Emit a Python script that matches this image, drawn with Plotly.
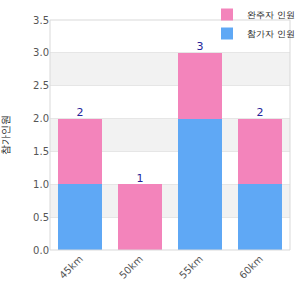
import plotly.graph_objects as go

categories = ["45km", "50km", "55km", "60km"]
series_blue = [1, 0, 2, 1]
series_pink = [1, 1, 1, 1]
totals = [b + p for b, p in zip(series_blue, series_pink)]
name_blue = "참가자 인원"
name_pink = "완주자 인원"
y_title = "참가인원"

fig = go.Figure()
fig.add_trace(go.Bar(x=categories, y=series_blue, name=name_blue,
                     marker=dict(color="#5fa8f5", line=dict(width=0))))
fig.add_trace(go.Bar(x=categories, y=series_pink, name=name_pink,
                     marker=dict(color="#f384bb", line=dict(width=0))))
fig.add_trace(go.Scatter(x=categories, y=totals, mode="text", text=[str(t) for t in totals],
                         textposition="top center", showlegend=False, hoverinfo="skip",
                         textfont=dict(color="#23239a", size=11, family="DejaVu Sans")))

shapes = []
for lo in [0.5, 1.5, 2.5]:
    shapes.append(dict(type="rect", xref="paper", yref="y", x0=0, x1=1, y0=lo, y1=lo + 0.5,
                       fillcolor="#f2f2f2", line=dict(width=0), layer="below"))
shapes.append(dict(type="rect", xref="paper", yref="paper", x0=0, x1=1, y0=0, y1=1,
                   line=dict(color="#d9d9d9", width=1), fillcolor="rgba(0,0,0,0)"))

fig.update_layout(
    width=300, height=300,
    margin=dict(l=50, r=10, t=20, b=50, autoexpand=False),
    barmode="stack", bargap=0.28,
    plot_bgcolor="white", paper_bgcolor="white",
    font=dict(family="DejaVu Sans", size=10, color="#555555"),
    shapes=shapes,
    legend=dict(xref="container", yref="container", x=1.0, xanchor="right", y=1.04, yanchor="top",
                traceorder="reversed",
                font=dict(size=9, color="#222222"), bgcolor="rgba(0,0,0,0)",
                itemwidth=30, tracegroupgap=0),
    xaxis=dict(tickangle=-45, showgrid=False, ticks="", tickfont=dict(size=10, color="#555555")),
    yaxis=dict(range=[0, 3.5], dtick=0.5, tickformat=".1f", showgrid=True, gridcolor="#e6e6e6",
               zeroline=False, ticks="", tickfont=dict(size=10, color="#555555"),
               title=dict(text=y_title, font=dict(size=10, color="#222222"), standoff=22)),
    showlegend=True,
)
fig.write_html("out.html")
